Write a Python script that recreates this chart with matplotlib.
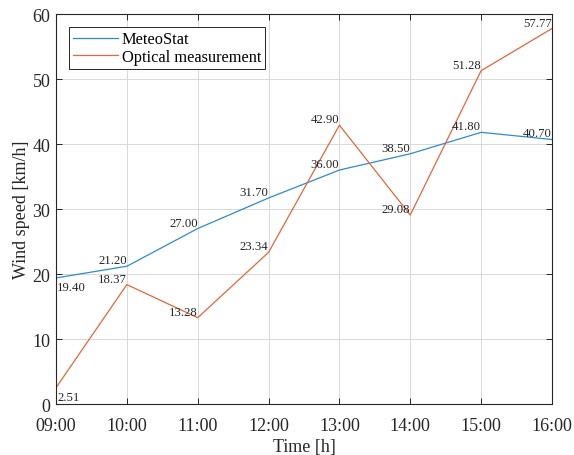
import numpy as np
import matplotlib
matplotlib.use("Agg")
import matplotlib.pyplot as plt

# Wind speed, MeteoStat vs optical measurement
hours = [9, 10, 11, 12, 13, 14, 15, 16]
hour_labels = ["09:00", "10:00", "11:00", "12:00", "13:00", "14:00", "15:00", "16:00"]
meteostat = [19.40, 21.20, 27.00, 31.70, 36.00, 38.50, 41.80, 40.70]
optical = [2.51, 18.37, 13.28, 23.34, 42.90, 29.08, 51.28, 57.77]

plt.rcParams["font.family"] = ["Liberation Serif", "DejaVu Serif"]

BLUE = "#2f8ad0"
ORANGE = "#e0683a"
AX_COL = "#262626"

fig = plt.figure(figsize=(5.74, 4.56), dpi=100)
ax = fig.add_axes([0.0976, 0.1118, 0.864, 0.8552])

ax.plot(hours, meteostat, color=BLUE, lw=0.9, label="MeteoStat")
ax.plot(hours, optical, color=ORANGE, lw=0.9, label="Optical measurement")

# value labels: first point below-right, the rest above-left
for series in (meteostat, optical):
    for i, (h, v) in enumerate(zip(hours, series)):
        if i == 0:
            ax.annotate(f"{v:.2f}", (h, v), xytext=(1, -9), textcoords="offset pixels",
                        ha="left", va="center", fontsize=9.2, color=AX_COL)
        else:
            ax.annotate(f"{v:.2f}", (h, v), xytext=(0, 6), textcoords="offset pixels",
                        ha="right", va="center", fontsize=9.2, color=AX_COL)

ax.set_xlim(9, 16)
ax.set_ylim(0, 60)
ax.set_xticks(hours)
ax.set_xticklabels(hour_labels)
ax.set_yticks(np.arange(0, 61, 10))

ax.grid(True, color="#d9d9d9", lw=0.7)
ax.set_axisbelow(True)
ax.tick_params(direction="in", top=True, right=True, length=4, width=0.7,
               colors=AX_COL, labelsize=13)
ax.tick_params(axis="x", pad=9.5)
ax.tick_params(axis="y", pad=4)
for s in ax.spines.values():
    s.set_color(AX_COL)
    s.set_linewidth(0.8)

ax.set_xlabel("Time [h]", fontsize=13, color=AX_COL, labelpad=3)
ax.set_ylabel("Wind speed [km/h]", fontsize=13, color=AX_COL, labelpad=2)

leg = ax.legend(loc="upper left", fontsize=11.8, fancybox=False, framealpha=1,
                edgecolor=AX_COL, handlelength=2.75, handletextpad=0.2,
                borderpad=0.25, labelspacing=0.1, borderaxespad=0.8)
leg.get_frame().set_linewidth(0.7)

fig.savefig("out.png", dpi=100)
